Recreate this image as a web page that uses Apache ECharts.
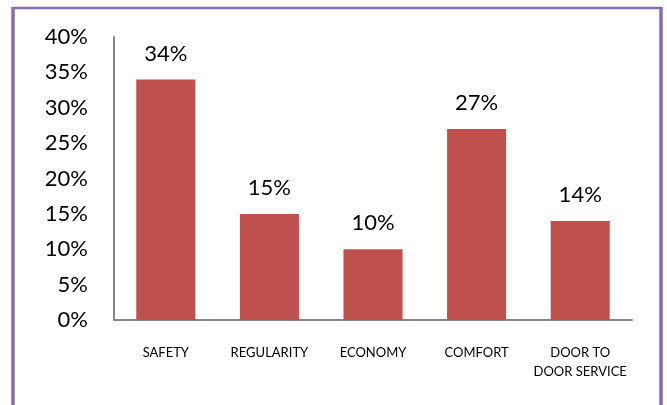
<!DOCTYPE html>
<html>
<head>
<meta charset="utf-8">
<script src="https://cdn.jsdelivr.net/npm/echarts@6/dist/echarts.min.js"></script>
<style>
  html, body { margin: 0; padding: 0; background: #fff; }
  #chart { width: 667px; height: 405px; }
</style>
</head>
<body>
<div id="chart"></div>
<script>
// Survey shares by reason
const categories = ['SAFETY', 'REGULARITY', 'ECONOMY', 'COMFORT', 'DOOR TO\nDOOR SERVICE'];
const shares = [34, 15, 10, 27, 14];
const yTicks = [0, 5, 10, 15, 20, 25, 30, 35, 40];

const chart = echarts.init(document.getElementById('chart'), null, { renderer: 'canvas' });
const frameColor = '#8a6dad';

chart.setOption({
  animation: false,
  backgroundColor: '#ffffff',
  textStyle: { fontFamily: 'Lato, "Open Sans", sans-serif' },
  graphic: [
    { type: 'line', shape: { x1: 13, y1: 8, x2: 661, y2: 8 }, style: { stroke: frameColor, lineWidth: 2.5 } },
    { type: 'line', shape: { x1: 13, y1: 7, x2: 13, y2: 405 }, style: { stroke: frameColor, lineWidth: 3.5 } },
    { type: 'line', shape: { x1: 661, y1: 7, x2: 661, y2: 405 }, style: { stroke: frameColor, lineWidth: 3.5 } }
  ],
  grid: { left: 114, top: 37, right: 35, bottom: 85 },
  xAxis: {
    type: 'category',
    data: categories,
    axisLine: { lineStyle: { color: '#868686', width: 2 } },
    axisTick: { show: false },
    axisLabel: { color: '#000', fontSize: 13, margin: 23, lineHeight: 19, interval: 0 }
  },
  yAxis: {
    type: 'value',
    min: yTicks[0],
    max: yTicks[yTicks.length - 1],
    interval: 5,
    splitLine: { show: false },
    axisLine: { show: true, lineStyle: { color: '#868686', width: 2 } },
    axisTick: { show: false },
    axisLabel: { color: '#000', fontSize: 22, margin: 26, formatter: v => v + '%' }
  },
  series: [{
    type: 'bar',
    data: shares,
    barWidth: '57%',
    itemStyle: { color: '#c0504d' },
    label: {
      show: true,
      position: 'top',
      distance: 15,
      color: '#000',
      fontSize: 22,
      formatter: p => p.value + '%'
    }
  }]
});
</script>
</body>
</html>
